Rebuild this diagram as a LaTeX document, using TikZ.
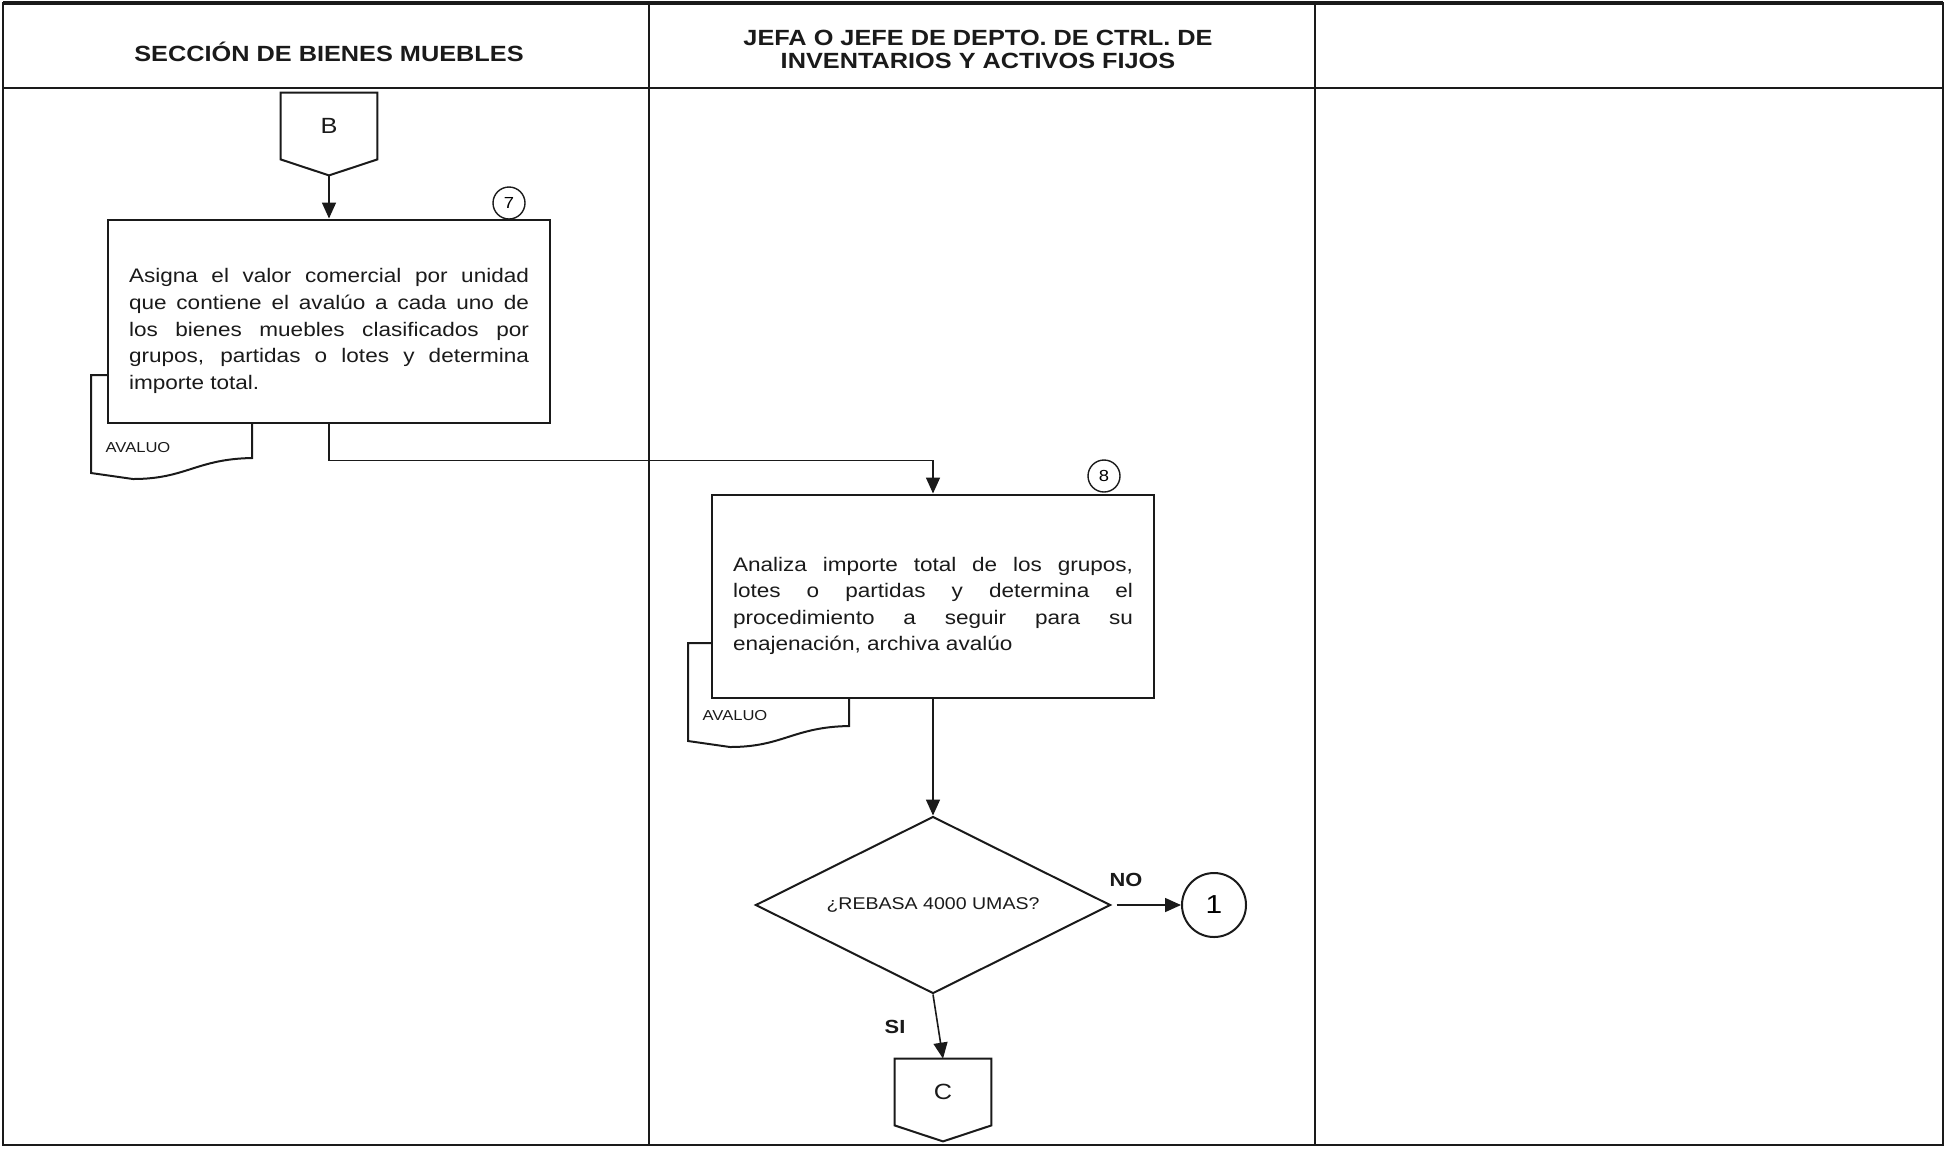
\documentclass[tikz,border=0pt]{standalone}
\usepackage{fontspec}
\setmainfont{Liberation Sans}[FakeStretch=1.15]
\usepackage{tikz}
\usetikzlibrary{arrows.meta,positioning,shapes.geometric,calc}
\definecolor{ink}{HTML}{1A1A1A}
\tolerance=10000
\hbadness=10000
\tikzset{
  frameline/.style={draw=ink,line width=1.3pt},
  hdrtext/.style={font=\fontsize{11}{11.5}\selectfont\bfseries,align=center,text=ink},
  procbox/.style={draw=ink,fill=white,line width=1pt,
                  minimum width=221pt,minimum height=101.5pt,inner sep=0pt},
  proctext/.style={text width=200pt,align=justify,inner sep=0pt,
                   font=\fontsize{9.8}{13.3}\selectfont,text=ink},
  stepnum/.style={draw=ink,fill=white,circle,line width=0.7pt,
                  minimum size=16pt,inner sep=0pt,font=\fontsize{8}{8}\selectfont},
  offpage/.style={minimum width=48pt,minimum height=33pt,inner sep=0pt,
                  font=\fontsize{11}{11}\selectfont,text=ink},
  shapeline/.style={draw=ink,line width=1pt},
  decision/.style={draw=ink,diamond,aspect=2,line width=1pt,
                   minimum width=177.5pt,minimum height=88.5pt,inner sep=0pt,
                   font=\fontsize{8.5}{9}\selectfont,text=ink},
  endconn/.style={draw=ink,circle,line width=1pt,minimum size=32pt,
                  inner sep=0pt,font=\fontsize{13}{13}\selectfont},
  doclabel/.style={font=\fontsize{7.2}{8}\selectfont,inner sep=0pt,text=ink},
  answer/.style={font=\fontsize{9.5}{10}\selectfont\bfseries,inner sep=0pt,text=ink},
  flowarr/.style={-{Triangle[length=8pt,width=7pt]},line width=0.8pt,draw=ink}
}
\newcommand{\offpagebox}[1]{%
  \draw[shapeline] (#1.north west) -- (#1.north east) -- (#1.south east)
    -- ([yshift=-8pt]#1.south) -- (#1.south west) -- cycle;}
\newcommand{\avaluodoc}[2]{%
  \begin{scope}[shift={#2}]
    \draw[shapeline] (0,0) -- (161,0) -- (161,83)
      .. controls (105,84) and (95,104) .. (42,104) -- (0,98) -- cycle;
    \node[doclabel] (#1) at (47,73) {AVALUO};
  \end{scope}}
\begin{document}
\begin{tikzpicture}[x=0.5pt,y=-0.5pt,>=Latex]
  \useasboundingbox (0,0) rectangle (1952,1148);
  % lanes
  \draw[frameline] (3,3) rectangle (1943,1145);
  \draw[frameline,line width=2pt] (3,3) -- (1943,3);
  \draw[frameline] (3,88) -- (1943,88);
  \foreach \xx in {649,1315} {
    \draw[frameline] (\xx,3) -- (\xx,1145);
  }
  \node[hdrtext] (laneA) at (329,52) {SECCIÓN DE BIENES MUEBLES};
  \node[hdrtext] (laneB) at (978,49) {JEFA O JEFE DE DEPTO. DE CTRL. DE\\INVENTARIOS Y ACTIVOS FIJOS};

  % step 7
  \node[offpage] (offB) at (329,126) {B};
  \offpagebox{offB}
  \coordinate (offBtip) at ([yshift=-8pt]offB.south);
  \avaluodoc{doc7}{(91,375)}
  \node[procbox] (p7) at (329,321) {};
  \node[proctext] (t7) at (329,331) {Asigna el valor comercial por unidad\linebreak
    que contiene el avalúo a cada uno de\linebreak
    los bienes muebles clasificados por\linebreak
    grupos, partidas o lotes y determina\linebreak
    importe total.};
  \node[stepnum] (n7) at (509,203) {7};
  \draw[flowarr] (offBtip) -- (p7.north);

  % step 8
  \avaluodoc{doc8}{(688,643)}
  \node[procbox] (p8) at (933,596) {};
  \node[proctext] (t8) at (933,606) {Analiza importe total de los grupos,\linebreak
    lotes o partidas y determina el\linebreak
    procedimiento a seguir para su\linebreak
    enajenación, archiva avalúo};
  \node[stepnum] (n8) at (1104,476) {8};
  \draw[flowarr] (p7.south) -- ++(0,37) -| (p8.north);

  % decision
  \node[decision] (q) at (933,905) {¿REBASA 4000 UMAS?};
  \draw[flowarr] (p8.south) -- (q.north);
  \node[endconn] (c1) at (1214,905) {1};
  \draw[flowarr] ([xshift=2.5pt]q.east) -- (c1.west);
  \node[answer] (no) at (1126,880) {NO};
  \node[offpage] (offC) at (943,1092) {C};
  \offpagebox{offC}
  \draw[flowarr] (q.south) -- (offC.north);
  \node[answer] (si) at (895,1027) {SI};
\end{tikzpicture}
\end{document}
